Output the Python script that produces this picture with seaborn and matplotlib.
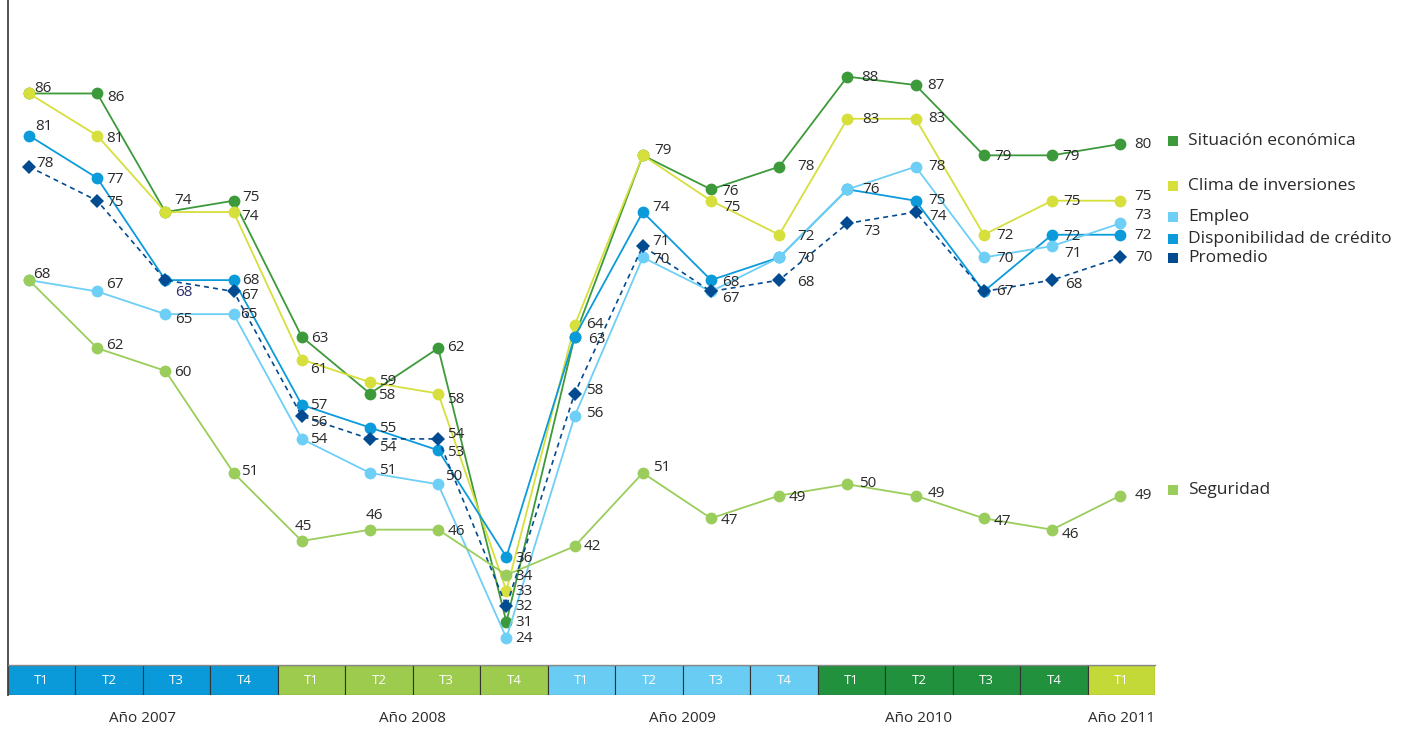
import numpy as np
import pandas as pd
import matplotlib.pyplot as plt
import seaborn as sns

# quarters shown on the coloured strip
quarters = ['T1', 'T2', 'T3', 'T4'] * 4 + ['T1']
years = ['Año 2007', 'Año 2008', 'Año 2009', 'Año 2010', 'Año 2011']
year_len = [4, 4, 4, 4, 1]

situacion = [86, 86, 74, 75, 63, 58, 62, 31, 63, 79, 76, 78, 88, 87, 79, 79, 80]
clima = [86, 81, 74, 74, 61, 59, 58, 33, 64, 79, 75, 72, 83, 83, 72, 75, 75]
empleo = [68, 67, 65, 65, 54, 51, 50, 24, 56, 70, 67, 70, 76, 78, 70, 71, 73]
credito = [81, 77, 68, 68, 57, 55, 53, 36, 63, 74, 68, 70, 76, 75, 67, 72, 72]
promedio = [78, 75, 68, 67, 56, 54, 54, 32, 58, 71, 67, 68, 73, 74, 67, 68, 70]
seguridad = [68, 62, 60, 51, 45, 46, 46, 34, 42, 51, 47, 49, 50, 49, 47, 46, 49]

names = ['Situación económica', 'Clima de inversiones', 'Empleo',
         'Disponibilidad de crédito', 'Promedio', 'Seguridad']

df = pd.DataFrame({'q': np.arange(len(quarters)),
                   'Situación económica': situacion,
                   'Clima de inversiones': clima,
                   'Empleo': empleo,
                   'Disponibilidad de crédito': credito,
                   'Promedio': promedio,
                   'Seguridad': seguridad})

colors = {'Situación económica': '#3d9a3a',
          'Clima de inversiones': '#d6df3c',
          'Empleo': '#6dcff5',
          'Disponibilidad de crédito': '#0b9bdb',
          'Promedio': '#034b91',
          'Seguridad': '#9acd5b'}
band_colors = ['#0a9ad9', '#9ccb4d', '#69cdf3', '#22913e', '#c3d937']

# label offsets in pixels (None = label hidden under another one)
offsets = {
    'Situación económica': [None, (10, -4), None, (9, 3), (9, -2), (8, -2), (9, 1), (9, 0), None,
                            None, (10, -2), (18, 0), (14, -1), (12, 0), (10, -1), (10, -1), (14, 0)],
    'Clima de inversiones': [(5, 5), (9, -3), (9, 12), (8, -4), (8, -10), (9, 1), (9, -6), (9, -1), (12, 1),
                             (11, 5), (12, -7), (18, -2), (15, -1), (13, 0), (12, -1), (11, -1), (14, 4)],
    'Empleo': [None, (9, 7), (10, -5), (7, 0), (8, -1), (9, 2), (7, 8), (9, 0), (11, 3),
               (9, -2), (11, -7), (18, -1), (15, 0), (13, 0), (12, -1), (12, -7), (14, 8)],
    'Disponibilidad de crédito': [(6, 9), (9, -1), None, (9, 0), (8, -1), (9, -1), (9, -2), (9, -2), (14, -3),
                                  (9, 5), (11, -2), None, None, (13, 0), None, (11, -2), (14, -1)],
    'Promedio': [(7, 3), (9, -2), (10, -12), (8, -4), (8, -6), (9, -9), (9, 4), (9, 0), (11, 3),
                 (9, 5), None, (18, -2), (16, -8), (14, -4), (12, 0), (13, -4), (15, 0)],
    'Seguridad': [(4, 6), (9, 3), (9, -2), (7, 1), (-7, 14), (-4, 14), (9, -2), (9, -2), (9, 0),
                  (10, 5), (10, -2), (9, -2), (12, 1), (12, 2), (10, -3), (10, -5), (14, 0)],
}
legend_nudge = [0.4, 1.3, 0.55, -0.35, -0.05, 0.5]

sns.set_style('white')
plt.rcParams['font.family'] = ['Open Sans', 'DejaVu Sans']

# the original is not drawn to a linear scale: the late-2008 dip and the
# top are squeezed. piecewise scale (value -> pixel row) to follow it
brk_v = np.array([12.3, 24, 31, 34, 36, 45, 80, 97.1])
brk_px = np.array([665, 638, 622, 575, 557, 541, 144, 0])


def fwd(v):
    return -np.interp(np.asarray(v, dtype=float), brk_v, brk_px)


def inv(u):
    return np.interp(-np.asarray(u, dtype=float), brk_px[::-1], brk_v[::-1])


W, H = 1415, 729
fig = plt.figure(figsize=(W / 100, H / 100), dpi=100)
ax = fig.add_axes([8 / W, 64 / H, 1407 / W, 665 / H])
bx = fig.add_axes([8 / W, 34 / H, 1147 / W, 30 / H])

draw_order = ['Situación económica', 'Clima de inversiones', 'Disponibilidad de crédito',
              'Empleo', 'Promedio', 'Seguridad']
for name in draw_order:
    if name == 'Promedio':
        sns.lineplot(data=df, x='q', y=name, ax=ax, color=colors[name], marker='D', markersize=7.5,
                     markeredgewidth=0, linewidth=1.2, linestyle=(0, (3, 2.5)), legend=False)
    else:
        sns.lineplot(data=df, x='q', y=name, ax=ax, color=colors[name], marker='o', markersize=8.5,
                     markeredgewidth=0, linewidth=1.3, legend=False)
    for i, v in enumerate(df[name]):
        off = offsets[name][i]
        if off is None:
            continue
        tc = '#2b2f6b' if (name == 'Promedio' and i == 2) else '#2a2a2a'
        ax.annotate(str(v), (i, v), xytext=off, textcoords='offset pixels',
                    ha='left', va='center', fontsize=11, color=tc)

ax.set_yscale('function', functions=(fwd, inv))
xmin = -21 / 68.2
ax.set_xlim(xmin, xmin + 1407 / 68.2)
ax.set_ylim(12.3, 97.1)
ax.set_xticks([])
ax.set_yticks([])
ax.minorticks_off()
ax.set_xlabel('')
ax.set_ylabel('')
for s in ['top', 'right', 'bottom']:
    ax.spines[s].set_visible(False)
ax.spines['left'].set_color('#444444')
ax.spines['left'].set_linewidth(1.3)

# legend built by hand, rows next to the last values
leg_x = (1173 - 29) / 68.2
for name, nud in zip(names, legend_nudge):
    y = df[name].iloc[-1] + nud
    ax.plot([leg_x], [y], marker='s', markersize=7.5, color=colors[name],
            markeredgewidth=0, clip_on=False)
    ax.annotate(name, (leg_x, y), xytext=(15, 0), textcoords='offset pixels',
                ha='left', va='center', fontsize=12.5, color='#2a2a2a')

# coloured strip with quarters
cell_cols = []
for c, n in zip(band_colors, year_len):
    cell_cols += [c] * n
bx.bar(np.arange(len(quarters)) + 0.5, [1] * len(quarters), width=1, color=cell_cols,
       edgecolor='#333333', linewidth=0.8)
for i, q in enumerate(quarters):
    bx.text(i + 0.5, 0.5, q, ha='center', va='center', color='white', fontsize=9.5)
year_x = [2, 6, 10, 13.5, 16.5]
for x, yl in zip(year_x, years):
    bx.text(x, -0.77, yl, ha='center', va='center', fontsize=11, color='#2a2a2a',
            transform=bx.get_xaxis_transform())
bx.set_xlim(0, len(quarters))
bx.set_ylim(0, 1)
bx.set_xticks([])
bx.set_yticks([])
for s in ['right', 'bottom']:
    bx.spines[s].set_visible(False)
bx.spines['top'].set_color('#888888')
bx.spines['top'].set_linewidth(1.0)
bx.spines['left'].set_color('#444444')
bx.spines['left'].set_linewidth(1.3)

fig.savefig('out.png', dpi=100)
